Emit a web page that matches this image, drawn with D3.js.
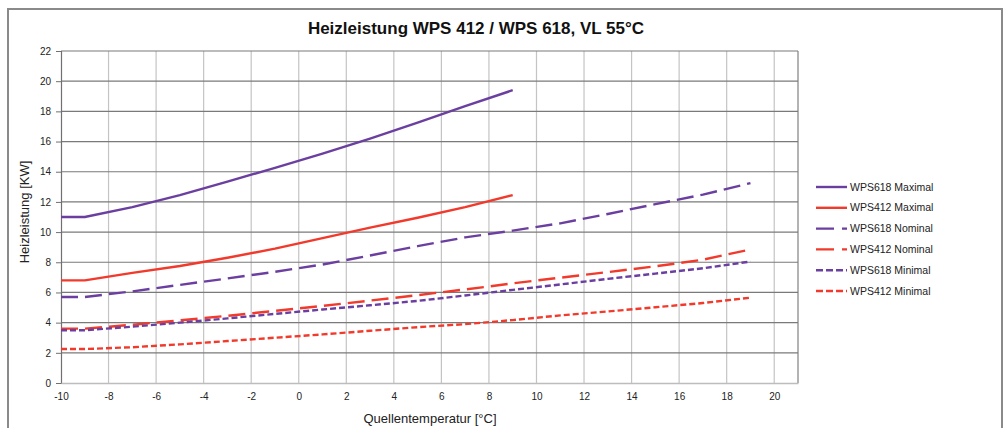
<!DOCTYPE html>
<html><head><meta charset="utf-8">
<script src="https://cdn.jsdelivr.net/npm/d3@7/dist/d3.min.js"></script>
<style>body{margin:0;background:#fff;}svg{display:block;}</style>
</head><body><svg id="c" width="1006" height="428"></svg>
<script>
const title = "Heizleistung WPS 412 / WPS 618, VL 55°C";
const xTitle = "Quellentemperatur  [°C]";
const yTitle = "Heizleistung  [KW]";
const xTicks = [-10,-8,-6,-4,-2,0,2,4,6,8,10,12,14,16,18,20];
const yTicks = [0,2,4,6,8,10,12,14,16,18,20,22];
const tempsShort = [-10,-9,-7,-5,-3,-1,1,3,5,7,9];
const tempsLong = [-10,-9,-7,-5,-3,-1,1,3,5,7,9,11,13,15,17,19];
const wps618Max = [11.0,11.0,11.65,12.45,13.35,14.25,15.2,16.2,17.25,18.35,19.4];
const wps412Max = [6.8,6.8,7.3,7.75,8.3,8.9,9.6,10.3,10.95,11.65,12.45];
const wps618Nom = [5.7,5.7,6.07,6.5,6.93,7.37,7.85,8.45,9.07,9.65,10.1,10.58,11.2,11.85,12.48,13.25];
const wps412Nom = [3.6,3.6,3.86,4.15,4.45,4.78,5.11,5.46,5.82,6.2,6.6,6.98,7.35,7.73,8.17,8.85];
const wps618Min = [3.5,3.5,3.73,4.0,4.28,4.58,4.87,5.15,5.44,5.8,6.17,6.53,6.9,7.25,7.6,8.05];
const wps412Min = [2.25,2.25,2.37,2.56,2.78,3.0,3.22,3.46,3.7,3.9,4.17,4.48,4.74,5.02,5.3,5.65];
const seriesNames = ["WPS618 Maximal","WPS412 Maximal","WPS618 Nominal","WPS412 Nominal","WPS618 Minimal","WPS412 Minimal"];

const PURPLE = "#6b3fa0", RED = "#f23a2c";
const series = [
  {name:seriesNames[0], x:tempsShort, y:wps618Max, color:PURPLE, dash:null},
  {name:seriesNames[1], x:tempsShort, y:wps412Max, color:RED, dash:null},
  {name:seriesNames[2], x:tempsLong, y:wps618Nom, color:PURPLE, dash:"17,7"},
  {name:seriesNames[3], x:tempsLong, y:wps412Nom, color:RED, dash:"17,7"},
  {name:seriesNames[4], x:tempsLong, y:wps618Min, color:PURPLE, dash:"6,3"},
  {name:seriesNames[5], x:tempsLong, y:wps412Min, color:RED, dash:"6,3"}
];

const svg = d3.select("#c");
const L=61, R=798, T=51, B=383;
const x = d3.scaleLinear().domain([-10,21]).range([L,R]);
const y = d3.scaleLinear().domain([0,22]).range([B,T]);
const FONT = "Liberation Sans, Arial, sans-serif";

// outer frame
svg.append("rect").attr("x",8).attr("y",9).attr("width",994).attr("height",440)
  .attr("fill","#fff").attr("stroke","#8a8a8a").attr("stroke-width",2);

// title
svg.append("text").attr("x",476).attr("y",34).attr("text-anchor","middle")
  .attr("font-family",FONT).attr("font-weight","bold")
  .attr("font-size",17).attr("fill","#111").text(title);

// vertical grid
svg.append("g").selectAll("line").data(xTicks.slice(1)).join("line")
  .attr("x1",d=>x(d)).attr("x2",d=>x(d)).attr("y1",T).attr("y2",B)
  .attr("stroke","#c4c4c4").attr("stroke-width",1.2);
// right border
svg.append("line").attr("x1",R).attr("x2",R).attr("y1",T).attr("y2",B)
  .attr("stroke","#808080").attr("stroke-width",1.2);
// horizontal grid
svg.append("g").selectAll("line").data(yTicks.slice(1)).join("line")
  .attr("x1",L).attr("x2",R).attr("y1",d=>y(d)).attr("y2",d=>y(d))
  .attr("stroke","#7a7a7a").attr("stroke-width",1.2);

// axes
const fmt = d => String(d);
const yAxis = d3.axisLeft(y).tickValues(yTicks).tickFormat(fmt).tickSize(5).tickPadding(5);
const gy = svg.append("g").attr("transform",`translate(${L},0)`).call(yAxis);
gy.select(".domain").attr("stroke","#707070").attr("stroke-width",1.2);
gy.selectAll(".tick line").attr("stroke","#707070");
gy.selectAll("text").attr("font-family",FONT).attr("font-size",10).attr("fill","#222");

const xAxis = d3.axisBottom(x).tickValues(xTicks).tickFormat(fmt).tickSize(0).tickPadding(10);
const gx = svg.append("g").attr("transform",`translate(0,${B})`).call(xAxis);
gx.select(".domain").attr("stroke","#bdbdbd").attr("stroke-width",1.5);
gx.selectAll("text").attr("font-family",FONT).attr("font-size",10).attr("fill","#222");

// axis titles
svg.append("text").attr("x",430).attr("y",423).attr("text-anchor","middle")
  .attr("font-family",FONT).attr("font-size",13).attr("fill","#222").text(xTitle);
svg.append("text").attr("transform","translate(29,212) rotate(-90)").attr("text-anchor","middle")
  .attr("font-family",FONT).attr("font-size",13).attr("fill","#222").text(yTitle);

// lines
const line = d3.line().x(d=>x(d[0])).y(d=>y(d[1]));
series.forEach(s=>{
  const pts = s.x.map((v,i)=>[v,s.y[i]]);
  svg.append("path").datum(pts).attr("d",line).attr("fill","none")
    .attr("stroke",s.color).attr("stroke-width",2.4)
    .attr("stroke-dasharray",s.dash).attr("stroke-linejoin","round");
});

// legend
const lg = svg.append("g");
series.forEach((s,i)=>{
  const yy = 187 + i*20.8;
  lg.append("line").attr("x1",816).attr("x2",847).attr("y1",yy).attr("y2",yy)
    .attr("stroke",s.color).attr("stroke-width",2.4)
    .attr("stroke-dasharray", s.dash ? (s.dash==="17,7" ? "18,8" : "7,3") : null);
  lg.append("text").attr("x",850).attr("y",yy+3.5)
    .attr("font-family",FONT).attr("font-size",10.5).attr("fill","#222").text(s.name);
});
</script></body></html>
